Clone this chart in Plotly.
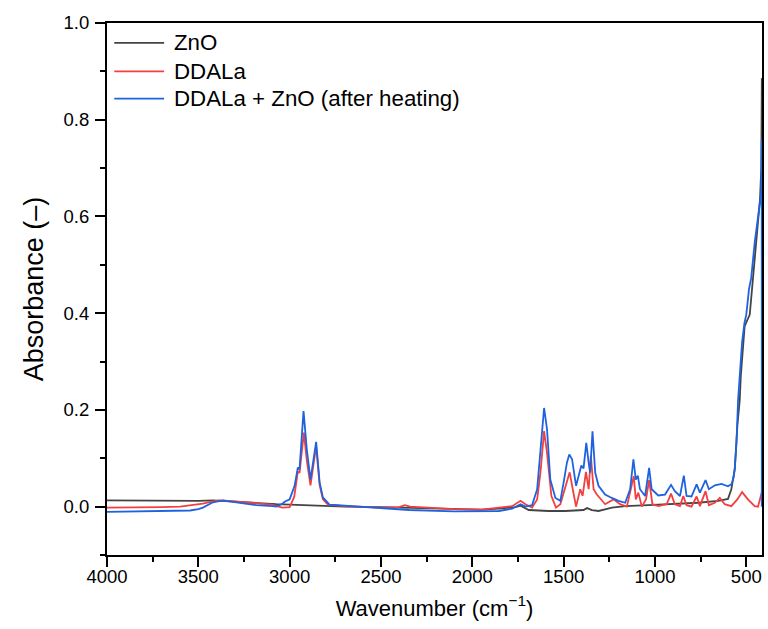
import plotly.graph_objects as go

# ---- Data ----
zno_wn = [4000, 3800, 3600, 3500, 3420, 3300, 3200, 3073, 3000, 2900, 2800, 2700, 2500, 2300,
          2100, 1950, 1854, 1763, 1736, 1691, 1582, 1491, 1391, 1372, 1345, 1309, 1236, 1163,
          1036, 909, 763, 654, 600, 582, 563, 549, 536, 530, 509, 481, 463, 436, 425, 418, 415]
zno_abs = [0.013, 0.012, 0.012, 0.012, 0.013, 0.011, 0.008, 0.005, 0.004, 0.003, 0.001, 0.0,
           -0.001, -0.003, -0.005, -0.006, -0.004, -0.001, 0.002, -0.007, -0.009, -0.009,
           -0.007, -0.003, -0.007, -0.009, -0.002, 0.001, 0.003, 0.005, 0.008, 0.012, 0.016,
           0.036, 0.077, 0.167, 0.22, 0.27, 0.373, 0.397, 0.473, 0.60, 0.635, 0.70, 0.886]

ddala_wn = [4000, 3800, 3700, 3600, 3545, 3475, 3420, 3382, 3300, 3182, 3100, 3040, 3000,
            2975, 2955, 2946, 2922, 2906, 2886, 2855, 2836, 2818, 2790, 2700, 2500, 2400,
            2370, 2340, 2300, 2100, 1950, 1854, 1782, 1736, 1709, 1673, 1645, 1627, 1607,
            1591, 1567, 1542, 1518, 1494, 1467, 1450, 1432, 1409, 1396, 1378, 1363, 1351,
            1336, 1318, 1273, 1227, 1191, 1154, 1131, 1116, 1105, 1091, 1072, 1049, 1032,
            1014, 982, 936, 912, 891, 863, 845, 827, 800, 772, 754, 723, 705, 672, 645, 618,
            582, 549, 523, 491, 454, 436, 420, 415]
ddala_abs = [-0.002, -0.002, -0.001, 0.0, 0.002, 0.006, 0.011, 0.013, 0.011, 0.007, 0.004,
             -0.002, -0.001, 0.02, 0.073, 0.07, 0.153, 0.095, 0.044, 0.125, 0.045, 0.015,
             0.004, 0.001, -0.002, -0.001, 0.003, 0.0, -0.001, -0.005, -0.006, -0.002, 0.001,
             0.012, 0.005, -0.002, 0.015, 0.070, 0.156, 0.111, 0.022, -0.002, 0.005, 0.036,
             0.071, 0.036, 0.0, 0.036, 0.022, 0.072, 0.036, 0.105, 0.036, 0.025, 0.005,
             0.015, 0.005, 0.0, 0.036, 0.063, 0.015, 0.029, 0.0, 0.015, 0.055, 0.005, 0.001,
             0.005, 0.027, 0.005, 0.001, 0.022, 0.003, 0.0, 0.021, 0.001, 0.032, 0.003,
             0.008, 0.018, 0.005, 0.001, 0.015, 0.030, 0.015, 0.001, 0.0, 0.025, 0.030]

hybrid_wn = [4000, 3800, 3727, 3650, 3545, 3500, 3475, 3420, 3365, 3273, 3182, 3092, 3073,
             3040, 3027, 3000, 2973, 2955, 2946, 2924, 2906, 2886, 2855, 2836, 2818, 2782,
             2673, 2491, 2345, 2100, 1950, 1854, 1782, 1736, 1709, 1673, 1645, 1627, 1607,
             1591, 1573, 1545, 1518, 1500, 1482, 1469, 1454, 1432, 1403, 1391, 1376, 1363,
             1355, 1342, 1327, 1309, 1273, 1236, 1200, 1163, 1136, 1118, 1105, 1094, 1082,
             1054, 1032, 1018, 982, 945, 912, 891, 863, 842, 827, 800, 772, 754, 723, 705,
             672, 636, 600, 580, 570, 563, 554, 545, 536, 523, 510, 500, 485, 473, 454, 440,
             427, 418, 415.4, 415.2]
hybrid_abs = [-0.011, -0.010, -0.009, -0.010, -0.008, -0.005, -0.002, 0.009, 0.013, 0.008,
              0.003, 0.001, 0.0, 0.006, 0.010, 0.015, 0.043, 0.081, 0.077, 0.1975, 0.118,
              0.056, 0.134, 0.050, 0.019, 0.004, 0.001, -0.004, -0.007, -0.010, -0.010,
              -0.009, -0.004, 0.005, 0.0, 0.003, 0.036, 0.118, 0.204, 0.160, 0.056, 0.018,
              0.012, 0.050, 0.091, 0.108, 0.098, 0.043, 0.085, 0.079, 0.132, 0.091, 0.070,
              0.156, 0.070, 0.043, 0.025, 0.018, 0.012, 0.008, 0.036, 0.098, 0.056, 0.064,
              0.036, 0.022, 0.080, 0.036, 0.023, 0.025, 0.045, 0.032, 0.022, 0.064, 0.022,
              0.021, 0.046, 0.029, 0.055, 0.036, 0.044, 0.047, 0.042, 0.047, 0.060, 0.080,
              0.130, 0.220, 0.270, 0.340, 0.380, 0.397, 0.450, 0.473, 0.546, 0.590, 0.628,
              0.650, 0.760, 0.0]

series_names = ["ZnO", "DDALa", "DDALa + ZnO (after heating)"]
series_x = [zno_wn, ddala_wn, hybrid_wn]
series_y = [zno_abs, ddala_abs, hybrid_abs]
series_colors = ["#444444", "#F24040", "#1F62E0"]

x_ticks = [4000, 3500, 3000, 2500, 2000, 1500, 1000, 500]
y_ticks = [0.0, 0.2, 0.4, 0.6, 0.8, 1.0]

FONT = "Liberation Sans, Arial, sans-serif"

fig = go.Figure()
for name, xs, ys, col in zip(series_names, series_x, series_y, series_colors):
    fig.add_trace(go.Scatter(x=xs, y=ys, mode="lines", name=name, showlegend=False,
                             line=dict(color=col, width=1.8)))

# Legend drawn as line samples + labels (inside top-left of the plot)
leg_y = [0.9625, 0.9092, 0.8579]
for name, col, yy in zip(series_names, series_colors, leg_y):
    fig.add_shape(type="line", xref="paper", yref="paper", x0=0.0111, x1=0.0872,
                  y0=yy, y1=yy, line=dict(color=col, width=1.8))
    fig.add_annotation(xref="paper", yref="paper", x=0.0985, y=yy, text=name,
                       showarrow=False, xanchor="left", yanchor="middle",
                       font=dict(family=FONT, size=22.3, color="black"))

fig.update_layout(
    width=768, height=629,
    margin=dict(l=107, r=4, t=23, b=74),
    paper_bgcolor="white", plot_bgcolor="white",
    font=dict(family=FONT, color="black", size=18),
    showlegend=False,
)
fig.update_xaxes(
    range=[4000, 414], tickvals=x_ticks, ticktext=[str(v) for v in x_ticks],
    showgrid=False, zeroline=False, showline=True, mirror=True,
    linecolor="black", linewidth=2, ticks="outside", ticklen=10, tickwidth=2,
    tickcolor="black", layer="below traces", ticklabelstandoff=-6,
    minor=dict(ticks="outside", ticklen=5, tickwidth=2, tickcolor="black", dtick=250,
               tick0=4000, showgrid=False),
    title=dict(text="Wavenumber (cm<sup>−1</sup>)", font=dict(size=22), standoff=14),
    tickfont=dict(size=18.5),
)
fig.update_yaxes(
    range=[-0.1, 1.0], tickvals=y_ticks, ticktext=[f"{v:.1f}" for v in y_ticks],
    showgrid=False, zeroline=False, showline=True, mirror=True,
    linecolor="black", linewidth=2, ticks="outside", ticklen=10, tickwidth=2,
    tickcolor="black", layer="below traces", ticklabelstandoff=2,
    minor=dict(ticks="outside", ticklen=5, tickwidth=2, tickcolor="black", dtick=0.1,
               tick0=0, showgrid=False),
    title=dict(text="Absorbance (–)", font=dict(size=27), standoff=12),
    tickfont=dict(size=18.5),
)

# remove the default 8px page margin so the 768x629 figure fills the window exactly
fig.write_html("out.html",
               config={"displayModeBar": False},
               post_script="document.body.style.margin='0px';"
                           "document.body.style.overflow='hidden';")
